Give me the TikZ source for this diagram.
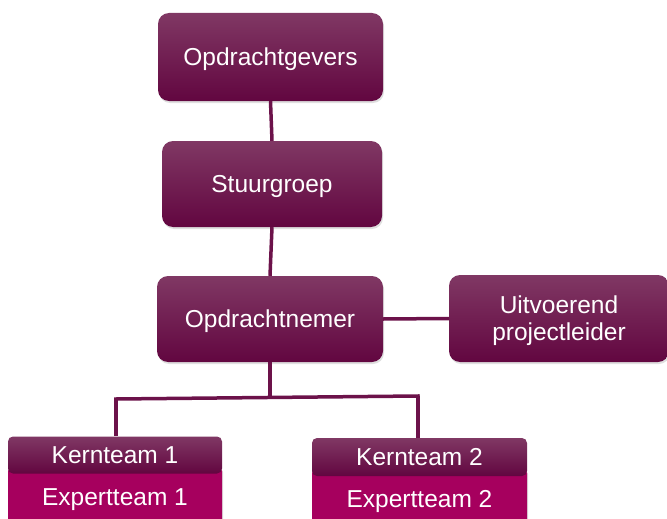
\documentclass[tikz,border=0pt]{standalone}
\usepackage{fontspec}
\setmainfont{Liberation Sans}
\usetikzlibrary{shadows}
\definecolor{boxtop}{RGB}{128,56,100}
\definecolor{boxbot}{RGB}{98,6,64}
\definecolor{expert}{RGB}{166,0,94}
\definecolor{linec}{RGB}{108,18,74}
\tikzset{
  txt/.style={font=\fontsize{24.5}{28}\selectfont, text=white, text depth=0pt},
  bigbox/.style={rectangle, rounded corners=11pt, top color=boxtop, bottom color=boxbot,
    draw=none, txt, align=center, inner sep=0pt,
    drop shadow={opacity=0.25, shadow xshift=1pt, shadow yshift=-2pt}},
  kernbox/.style={rectangle, rounded corners=5pt, top color=boxtop, bottom color=boxbot,
    draw=none, txt, inner sep=0pt},
  expbox/.style={rectangle, rounded corners=5pt, fill=expert, draw=none,
    inner sep=0pt, drop shadow={opacity=0.25, shadow xshift=1pt, shadow yshift=-1pt}},
  conn/.style={draw=linec, line width=3.5pt}
}
\begin{document}
\begin{tikzpicture}[x=1pt,y=-1pt]
\useasboundingbox (0,0) rectangle (667,519);
\coordinate (j) at (270,397.5);
\coordinate (jl) at (116,399);
\coordinate (jr) at (418,396);
\node[bigbox, minimum width=225pt, minimum height=88pt] (og) at (270.5,57) {Opdrachtgevers};
\node[bigbox, minimum width=220pt, minimum height=86pt] (sg) at (272,184) {Stuurgroep};
\node[bigbox, minimum width=226pt, minimum height=86pt] (on) at (270,319) {Opdrachtnemer};
\node[bigbox, minimum width=220pt, minimum height=87pt] (up) at (559,318.5) {Uitvoerend\\[-1pt]projectleider};
\node[expbox, minimum width=214pt, minimum height=58pt, anchor=north] (e1) at (115,466) {};
\node[expbox, minimum width=215pt, minimum height=58pt, anchor=north] (e2) at (419.5,468) {};
\node[txt] (t1) at (115,497.5) {Expertteam 1};
\node[txt] (t2) at (419.5,498.5) {Expertteam 2};
\node[kernbox, minimum width=214pt, minimum height=37pt] (k1) at (115,455) {Kernteam 1};
\node[kernbox, minimum width=215pt, minimum height=38pt] (k2) at (419.5,457) {Kernteam 2};
\draw[conn] (og.south) -- (sg.north);
\draw[conn] (sg.south) -- (on.north);
\draw[conn] (on.east) -- (up.west);
\draw[conn] (on.south) -- (j);
\draw[conn, line cap=rect] (jl) -- (jr);
\draw[conn] (jl) -- (jl |- k1.north);
\draw[conn] (jr) -- (jr |- k2.north);
\end{tikzpicture}
\end{document}
